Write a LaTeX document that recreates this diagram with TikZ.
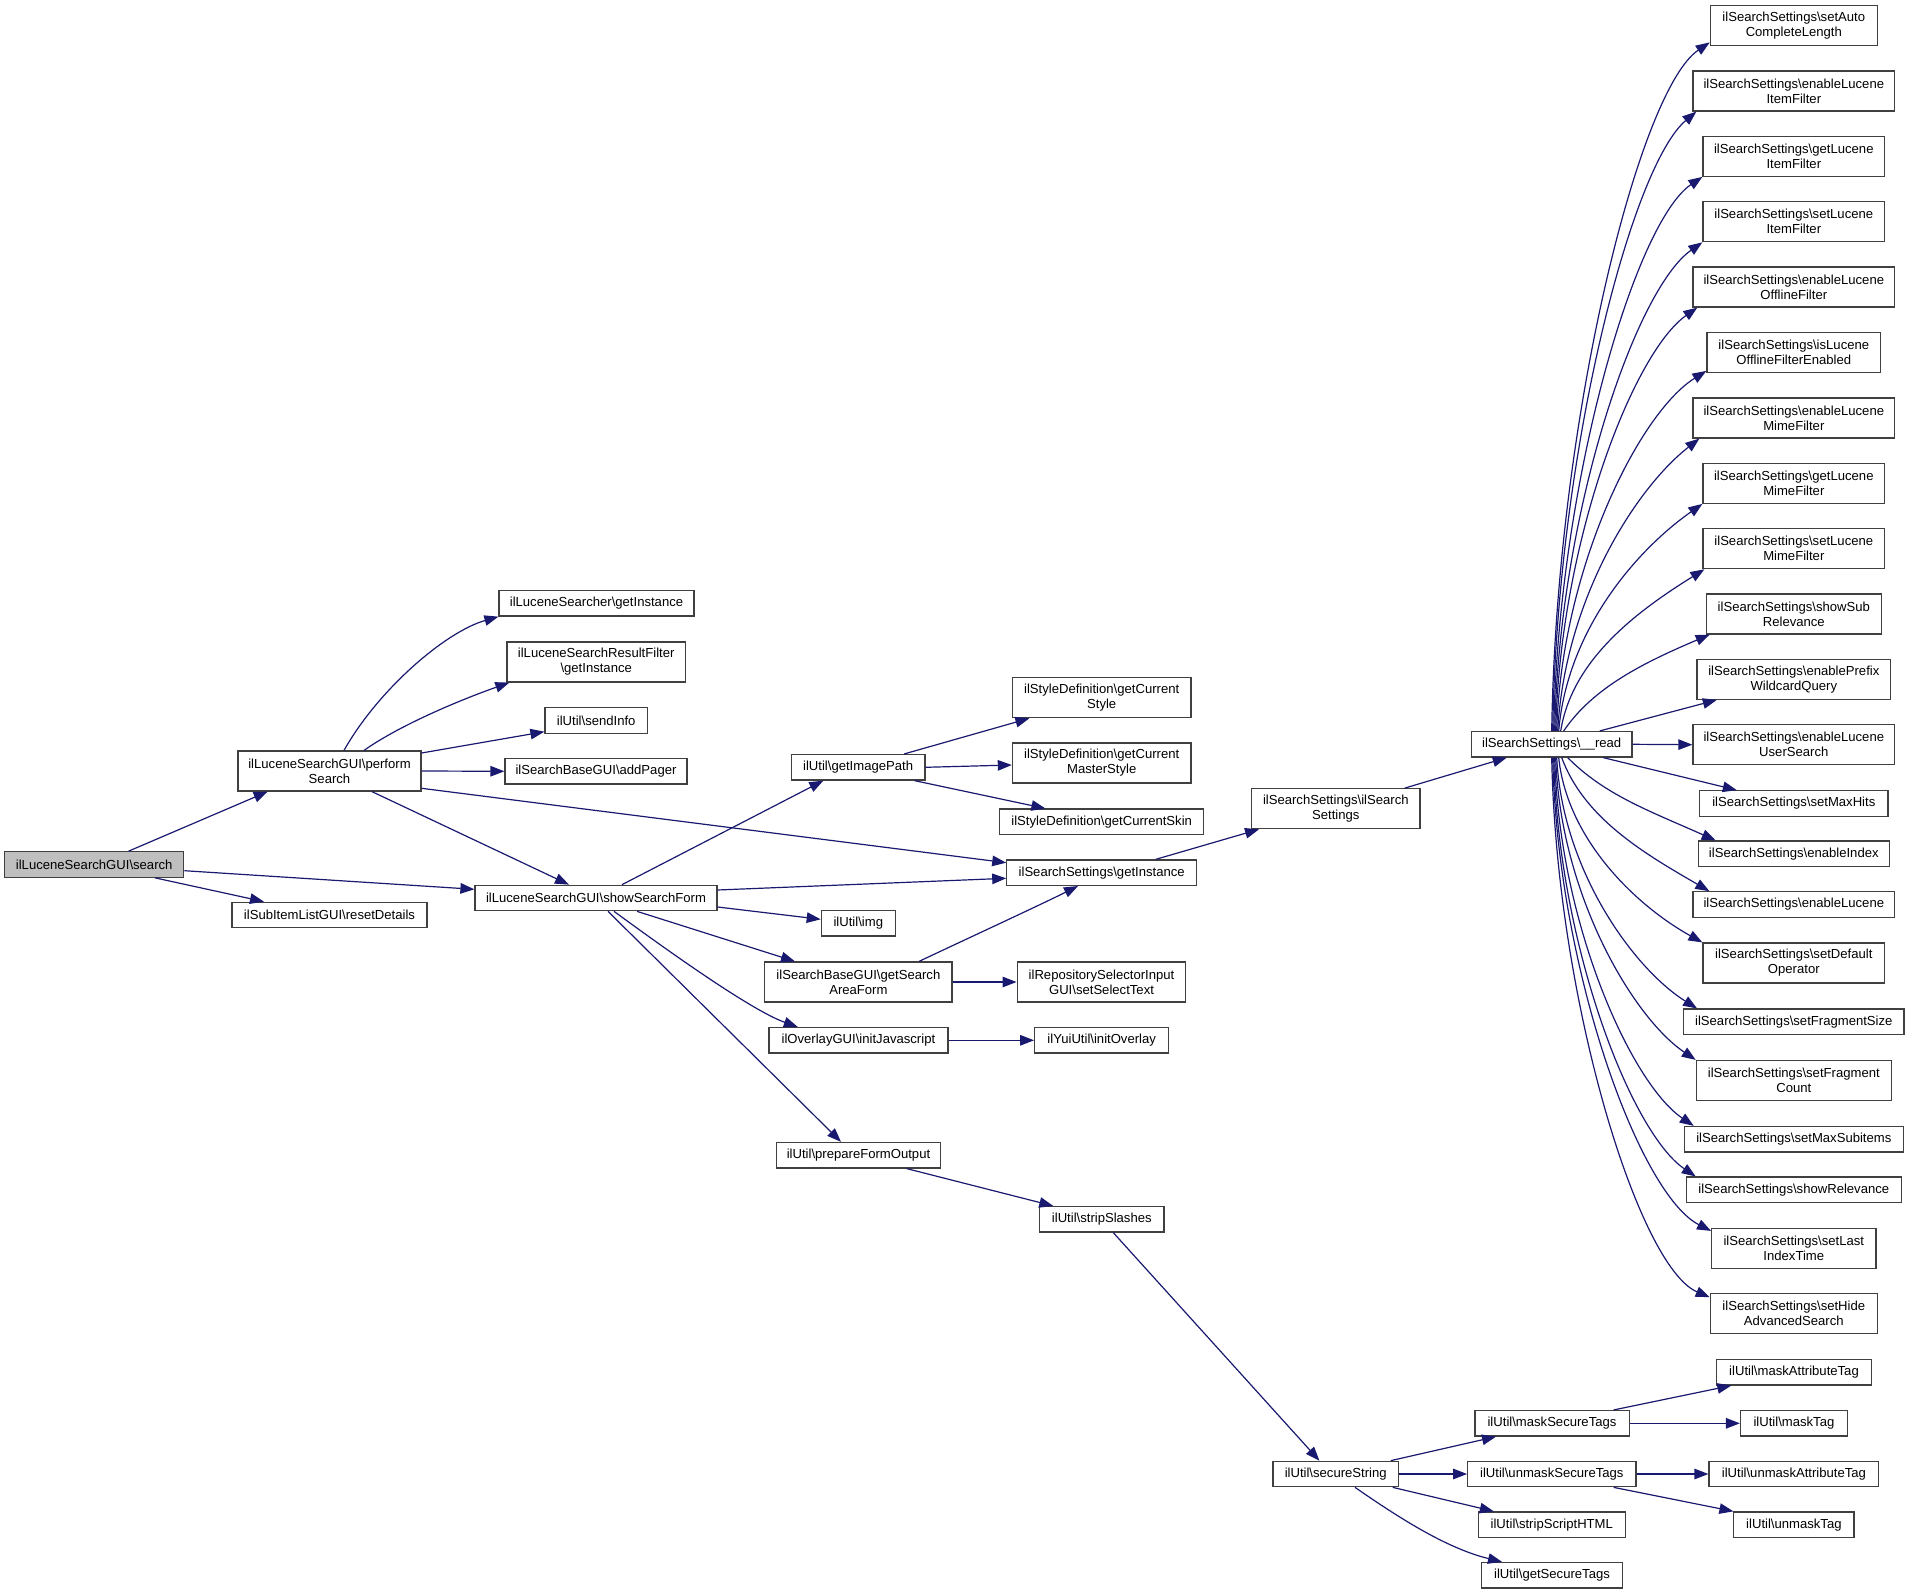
\documentclass[tikz,border=0pt]{standalone}
\usepackage{fontspec}
\setmainfont{Liberation Sans}
\usetikzlibrary{arrows.meta,calc}
\newcommand\mybs{\textbackslash}
\definecolor{edgec}{HTML}{191970}
\definecolor{boxc}{HTML}{404040}
\definecolor{rootfill}{HTML}{BFBFBF}
\begin{document}
\begin{tikzpicture}[x=1pt,y=-1pt,
  box/.style={draw=boxc, fill=white, line width=1.2pt, inner sep=0pt, align=center,
    font=\fontsize{13.1pt}{15pt}\selectfont},
  one/.style={box, minimum height=25.5pt},
  two/.style={box, minimum height=40pt},
  edge/.style={draw=edgec, line width=1.2pt, -{Triangle[length=14pt,width=10.5pt]}}]
\useasboundingbox (0,0) rectangle (1909,1594);

% ---- nodes ----
\node[one, minimum width=179pt, fill=rootfill] (search) at (94.2,864.5) {ilLuceneSearchGUI\mybs search};
\node[two, minimum width=183pt] (perf) at (329.5,771) {ilLuceneSearchGUI\mybs perform\\Search};
\node[one, minimum width=195pt] (reset) at (329.5,915) {ilSubItemListGUI\mybs resetDetails};
\node[one, minimum width=195pt] (lsgi) at (596.5,603.3) {ilLuceneSearcher\mybs getInstance};
\node[two, minimum width=178.5pt] (lsrf) at (596.2,662) {ilLuceneSearchResultFilter\\\mybs getInstance};
\node[one, minimum width=102.4pt] (sendinfo) at (596.2,720.4) {ilUtil\mybs sendInfo};
\node[one, minimum width=182pt] (addpager) at (596,771.3) {ilSearchBaseGUI\mybs addPager};
\node[one, minimum width=242pt] (ssf) at (596,898) {ilLuceneSearchGUI\mybs showSearchForm};
\node[one, minimum width=133.6pt] (gip) at (858.1,767.3) {ilUtil\mybs getImagePath};
\node[two, minimum width=178.6pt] (gcs) at (1101.7,697.7) {ilStyleDefinition\mybs getCurrent\\Style};
\node[two, minimum width=178.6pt] (gcms) at (1101.7,763) {ilStyleDefinition\mybs getCurrent\\MasterStyle};
\node[one, minimum width=204.2pt] (gcsk) at (1101.7,821.8) {ilStyleDefinition\mybs getCurrentSkin};
\node[one, minimum width=189.8pt] (ssgi) at (1101.7,872.7) {ilSearchSettings\mybs getInstance};
\node[one, minimum width=74pt] (img) at (858.3,923.3) {ilUtil\mybs img};
\node[two, minimum width=187.3pt] (gsaf) at (858.4,982) {ilSearchBaseGUI\mybs getSearch\\AreaForm};
\node[two, minimum width=168.7pt] (sst) at (1101.5,982) {ilRepositorySelectorInput\\GUI\mybs setSelectText};
\node[one, minimum width=179pt] (ijs) at (858.4,1040.3) {ilOverlayGUI\mybs initJavascript};
\node[one, minimum width=134pt] (iov) at (1101.7,1040.3) {ilYuiUtil\mybs initOverlay};
\node[one, minimum width=164.4pt] (pfo) at (858.5,1155.2) {ilUtil\mybs prepareFormOutput};
\node[one, minimum width=124.3pt] (ssl) at (1101.8,1219.3) {ilUtil\mybs stripSlashes};
\node[two, minimum width=168.3pt] (ssi) at (1335.8,808.7) {ilSearchSettings\mybs ilSearch\\Settings};
\node[one, minimum width=160.7pt] (rd) at (1551.7,744.3) {ilSearchSettings\mybs \_\_read};
\node[one, minimum width=125.3pt] (secs) at (1335.7,1474) {ilUtil\mybs secureString};
\node[one, minimum width=154.2pt] (mst) at (1552,1423.3) {ilUtil\mybs maskSecureTags};
\node[one, minimum width=168.2pt] (ust) at (1551.8,1474) {ilUtil\mybs unmaskSecureTags};
\node[one, minimum width=147.2pt] (ssh) at (1551.8,1524.7) {ilUtil\mybs stripScriptHTML};
\node[one, minimum width=140.8pt] (gst) at (1552,1575.2) {ilUtil\mybs getSecureTags};
\node[one, minimum width=154.7pt] (mat) at (1794,1372.2) {ilUtil\mybs maskAttributeTag};
\node[one, minimum width=106.8pt] (mt) at (1793.9,1423.3) {ilUtil\mybs maskTag};
\node[one, minimum width=169.8pt] (uat) at (1793.9,1474) {ilUtil\mybs unmaskAttributeTag};
\node[one, minimum width=120.2pt] (ut) at (1793.9,1524.7) {ilUtil\mybs unmaskTag};

\node[two, minimum width=167pt] (acl) at (1793.8,25.8) {ilSearchSettings\mybs setAuto\\CompleteLength};
\node[two, minimum width=201.7pt] (eLIF) at (1793.8,91) {ilSearchSettings\mybs enableLucene\\ItemFilter};
\node[two, minimum width=181.7pt] (gLIF) at (1793.8,156.3) {ilSearchSettings\mybs getLucene\\ItemFilter};
\node[two, minimum width=181.7pt] (sLIF) at (1793.8,221.7) {ilSearchSettings\mybs setLucene\\ItemFilter};
\node[two, minimum width=201.7pt] (eLOF) at (1793.8,287) {ilSearchSettings\mybs enableLucene\\OfflineFilter};
\node[two, minimum width=173.7pt] (iLOFE) at (1793.8,352.3) {ilSearchSettings\mybs isLucene\\OfflineFilterEnabled};
\node[two, minimum width=201.7pt] (eLMF) at (1793.8,418) {ilSearchSettings\mybs enableLucene\\MimeFilter};
\node[two, minimum width=181.7pt] (gLMF) at (1793.8,483.3) {ilSearchSettings\mybs getLucene\\MimeFilter};
\node[two, minimum width=181.7pt] (sLMF) at (1793.8,548.7) {ilSearchSettings\mybs setLucene\\MimeFilter};
\node[two, minimum width=175pt] (sSR) at (1793.8,614) {ilSearchSettings\mybs showSub\\Relevance};
\node[two, minimum width=193.7pt] (ePWQ) at (1793.8,679.3) {ilSearchSettings\mybs enablePrefix\\WildcardQuery};
\node[two, minimum width=201.7pt] (eLUS) at (1793.8,744.7) {ilSearchSettings\mybs enableLucene\\UserSearch};
\node[one, minimum width=188.3pt] (sMH) at (1793.8,803.5) {ilSearchSettings\mybs setMaxHits};
\node[one, minimum width=191pt] (eI) at (1793.8,853.8) {ilSearchSettings\mybs enableIndex};
\node[one, minimum width=201.7pt] (eL) at (1793.8,904.5) {ilSearchSettings\mybs enableLucene};
\node[two, minimum width=181.7pt] (sDO) at (1793.8,963) {ilSearchSettings\mybs setDefault\\Operator};
\node[one, minimum width=220.3pt] (sFS) at (1793.8,1021.8) {ilSearchSettings\mybs setFragmentSize};
\node[two, minimum width=195pt] (sFC) at (1793.8,1080.5) {ilSearchSettings\mybs setFragment\\Count};
\node[one, minimum width=219pt] (sMS) at (1793.8,1139.2) {ilSearchSettings\mybs setMaxSubitems};
\node[one, minimum width=215pt] (sR) at (1793.8,1189.8) {ilSearchSettings\mybs showRelevance};
\node[two, minimum width=164.3pt] (sLIT) at (1793.8,1248.5) {ilSearchSettings\mybs setLast\\IndexTime};
\node[two, minimum width=167pt] (sHAS) at (1793.8,1313.8) {ilSearchSettings\mybs setHide\\AdvancedSearch};

% ---- edges ----
\draw[edge] ([xshift=34.4pt]search.north) -- ([xshift=-61.8pt]perf.south);
\draw[edge] ([yshift=-6.2pt]search.east) -- ([yshift=8.7pt]ssf.west);
\draw[edge] ([xshift=60.8pt]search.south) -- ([xshift=-65.5pt]reset.north);
\draw[edge] ([xshift=14.5pt]perf.north) .. controls (378,690) and (445,632) .. (lsgi.south west);
\draw[edge] ([xshift=34.5pt]perf.north) .. controls (400,725) and (460,700) .. ([xshift=3pt]lsrf.south west);
\draw[edge] ([yshift=18pt]perf.east) -- ([yshift=-11.3pt]sendinfo.west);
\draw[edge] (perf.east) -- (addpager.west);
\draw[edge] ([yshift=-17.3pt]perf.east) -- ([yshift=10pt]ssgi.west);
\draw[edge] ([xshift=42.4pt]perf.south) -- ([xshift=-27pt]ssf.north);
\draw[edge] ([xshift=26pt]ssf.north) -- ([xshift=-34.8pt]gip.south);
\draw[edge] ([yshift=8pt]ssf.east) -- ([yshift=-5.6pt]ssgi.west);
\draw[edge] ([yshift=-9pt]ssf.east) -- ([yshift=4pt]img.west);
\draw[edge] ([xshift=41pt]ssf.south) -- ([xshift=-63.4pt]gsaf.north);
\draw[edge] ([xshift=18pt]ssf.south) .. controls (660,945) and (750,1010) .. ([xshift=-60.6pt]ijs.north);
\draw[edge] ([xshift=12pt]ssf.south) -- ([xshift=-17.5pt]pfo.north);
\draw[edge] ([xshift=46pt]gip.north) -- ([xshift=17.6pt]gcs.south west);
\draw[edge] (gip.east) -- ([yshift=-2pt]gcms.west);
\draw[edge] ([xshift=56.5pt]gip.south) -- ([xshift=-56.3pt]gcsk.north);
\draw[edge] ([xshift=60.6pt]gsaf.north) .. controls (960,942) and (1040,905) .. ([xshift=-23.7pt]ssgi.south);
\draw[edge] (gsaf.east) -- (sst.west);
\draw[edge] (ijs.east) -- (iov.west);
\draw[edge] ([xshift=54pt]ssgi.north) -- ([xshift=8pt]ssi.south west);
\draw[edge] ([xshift=69pt]ssi.north) -- ([xshift=-45pt]rd.south);
\draw[edge] ([xshift=48pt]pfo.south) -- ([xshift=-48.5pt]ssl.north);
\draw[edge] ([xshift=11.5pt]ssl.south) -- ([xshift=-16.3pt]secs.north);
\draw[edge] ([xshift=55pt]secs.north) -- ([xshift=-56pt]mst.south);
\draw[edge] (secs.east) -- (ust.west);
\draw[edge] ([xshift=57pt]secs.south) -- ([xshift=-58pt]ssh.north);
\draw[edge] ([xshift=19.3pt]secs.south) .. controls (1395,1515) and (1445,1548) .. ([xshift=-50pt]gst.north);
\draw[edge] ([xshift=61.6pt]mst.north) -- ([xshift=-62.7pt]mat.south);
\draw[edge] (mst.east) -- (mt.west);
\draw[edge] (ust.east) -- (uat.west);
\draw[edge] ([xshift=61.8pt]ust.south) -- ([xshift=-60.5pt]ut.north);
\draw[edge] ([xshift=48pt]rd.north) -- ([xshift=-77pt]ePWQ.south);
\draw[edge] (rd.east) -- (eLUS.west);
\draw[edge] ([xshift=51.6pt]rd.south) -- ([xshift=-57pt]sMH.north);

% fan upwards from __read
\foreach \ftar/\fsx/\fa/\ftx/\fty/\fang in {
  acl/0pt/0.03/0pt/4pt/34, eLIF/1pt/0.03/4pt/0pt/40, gLIF/2pt/0.03/0pt/0pt/34,
  sLIF/3pt/0.03/0pt/0pt/35, eLOF/4pt/0.03/5pt/0pt/35, iLOFE/5pt/0.03/0pt/2pt/32,
  eLMF/6pt/0.05/7pt/0pt/38, gLMF/7pt/0.06/0pt/0pt/35, sLMF/9pt/0.08/2pt/0pt/32,
  sSR/12pt/0.2/4pt/0pt/23}{
  \draw[edge] let \p0=([xshift=\fsx]rd.north), \p3=([xshift=\ftx,yshift=\fty]\ftar.south west),
    \n1={\x3-\x0}, \n2={\y3-\y0} in
    (\p0) .. controls ({\x0+\fa*\n1},{\y0+0.45*\n2}) and ({\x3-0.45*\n1},{\y3-0.45*tan(\fang)*\n1}) .. (\p3);
}
% fan downwards from __read
\foreach \ftar/\fsx/\fa/\ftx/\fty/\fang in {
  eI/16pt/0.25/18pt/0pt/-24, eL/10pt/0.15/17pt/0pt/-30, sDO/7pt/0.06/0pt/0pt/-29,
  sFS/5pt/0.04/14pt/0pt/-32, sFC/4pt/0.03/0pt/0pt/-34, sMS/3pt/0.03/10pt/0pt/-34,
  sR/2pt/0.03/10pt/0pt/-34, sLIT/1pt/0.03/0pt/-3pt/-27, sHAS/0pt/0.03/0pt/-4pt/-23}{
  \draw[edge] let \p0=([xshift=\fsx]rd.south), \p3=([xshift=\ftx,yshift=\fty]\ftar.north west),
    \n1={\x3-\x0}, \n2={\y3-\y0} in
    (\p0) .. controls ({\x0+\fa*\n1},{\y0+0.45*\n2}) and ({\x3-0.45*\n1},{\y3-0.45*tan(\fang)*\n1}) .. (\p3);
}
\end{tikzpicture}
\end{document}
